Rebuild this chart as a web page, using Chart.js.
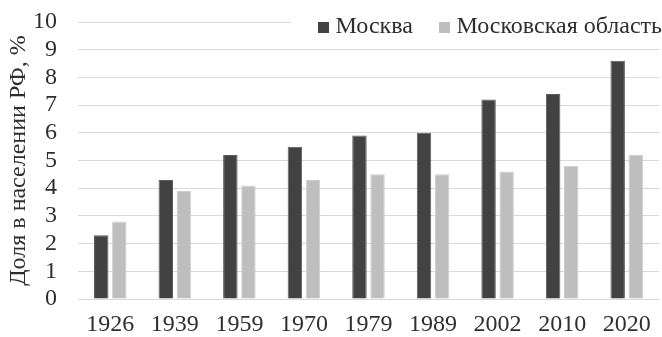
<!DOCTYPE html>
<html>
<head>
<meta charset="utf-8">
<script src="https://cdn.jsdelivr.net/npm/chart.js@4/dist/chart.umd.min.js"></script>
<style>
  html, body { margin: 0; padding: 0; background: #ffffff; }
  #wrap { width: 662px; height: 337px; }
</style>
</head>
<body>
<div id="wrap"><canvas id="chart" width="662" height="337"></canvas></div>
<script>
// Census years and share of Russia's population (%)
const years = ['1926', '1939', '1959', '1970', '1979', '1989', '2002', '2010', '2020'];
const moscow = [2.3, 4.3, 5.2, 5.5, 5.9, 6.0, 7.2, 7.4, 8.6];
const moscowRegion = [2.8, 3.9, 4.1, 4.3, 4.5, 4.5, 4.6, 4.8, 5.2];
const seriesNames = ['Москва', 'Московская область'];
const yAxisTitle = 'Доля в населении РФ, %';
const yTicks = [0, 1, 2, 3, 4, 5, 6, 7, 8, 9, 10];

const FONT = "'Liberation Serif', 'Times New Roman', 'DejaVu Serif', serif";
const FONT_SIZE = 24;
const TEXT = '#2e2e2e';
const DARK = '#424242';
const DARK_EDGE = '#5c5c5c';
const LIGHT = '#bebebe';
const LIGHT_EDGE = '#cfcfcf';
const LEGEND_PAD = 31;

// Small square swatch used as the legend marker
function swatch(color) {
  const c = document.createElement('canvas');
  c.width = 11;
  c.height = 11;
  const g = c.getContext('2d');
  g.fillStyle = color;
  g.fillRect(0, 0, 11, 11);
  return c;
}

// Legend sits over the top-right of the plot on a white patch,
// so it takes no layout space of its own.
const legendOverlay = {
  id: 'legendOverlay',
  afterInit(chart) {
    const lg = chart.legend;
    const fit = lg.fit.bind(lg);
    lg.fit = function () { fit(); this.height = 0; };
  },
  afterLayout(chart) {
    const lg = chart.legend;
    lg.top = -16;
    lg.bottom = lg.top + 70;
    lg.right = 662 + LEGEND_PAD;
  },
  beforeDatasetsDraw(chart) {
    const lg = chart.legend;
    const ctx = chart.ctx;
    const x0 = lg.right - lg.lineWidths[0] - 32;
    ctx.save();
    ctx.fillStyle = '#ffffff';
    ctx.fillRect(x0, 12, chart.width - x0, 28);
    ctx.restore();
    lg.draw();
  }
};

new Chart(document.getElementById('chart'), {
  type: 'bar',
  data: {
    labels: years,
    datasets: [
      { label: seriesNames[0], data: moscow, backgroundColor: DARK, borderColor: DARK_EDGE, borderWidth: 1 },
      { label: seriesNames[1], data: moscowRegion, backgroundColor: LIGHT, borderColor: LIGHT_EDGE, borderWidth: 1 }
    ]
  },
  options: {
    responsive: false,
    animation: false,
    devicePixelRatio: 1,
    layout: { padding: { top: 22, right: 3, bottom: 0, left: 0 } },
    datasets: {
      bar: { categoryPercentage: 0.56, barPercentage: 0.8 }
    },
    plugins: {
      tooltip: { enabled: false },
      legend: {
        position: 'top',
        align: 'end',
        labels: {
          color: TEXT,
          font: { family: FONT, size: FONT_SIZE },
          usePointStyle: true,
          pointStyleWidth: 0.5,
          boxHeight: 11,
          padding: LEGEND_PAD,
          generateLabels(chart) {
            const items = Chart.defaults.plugins.legend.labels.generateLabels(chart);
            items.forEach((it, i) => {
              it.pointStyle = swatch(chart.data.datasets[i].backgroundColor);
            });
            return items;
          }
        }
      }
    },
    scales: {
      x: {
        grid: { display: false, drawTicks: false },
        border: { display: false },
        ticks: {
          color: TEXT,
          font: { family: FONT, size: FONT_SIZE },
          padding: 11,
          maxRotation: 0,
          autoSkip: false
        },
        afterFit(s) { s.height = 38; }
      },
      y: {
        min: 0,
        max: 10,
        afterBuildTicks(s) { s.ticks = yTicks.map(v => ({ value: v })); },
        grid: { color: '#d9d9d9', lineWidth: 1, drawTicks: false },
        border: { display: false },
        ticks: {
          color: TEXT,
          font: { family: FONT, size: FONT_SIZE },
          padding: 21,
          autoSkip: false
        },
        title: {
          display: true,
          text: yAxisTitle,
          color: TEXT,
          font: { family: FONT, size: FONT_SIZE },
          padding: { top: 4, bottom: 0 }
        },
        afterFit(s) {
          s.width = 78;
          s.paddingTop = 0;
          s.paddingBottom = 0;
        }
      }
    }
  },
  plugins: [legendOverlay]
});
</script>
</body>
</html>
